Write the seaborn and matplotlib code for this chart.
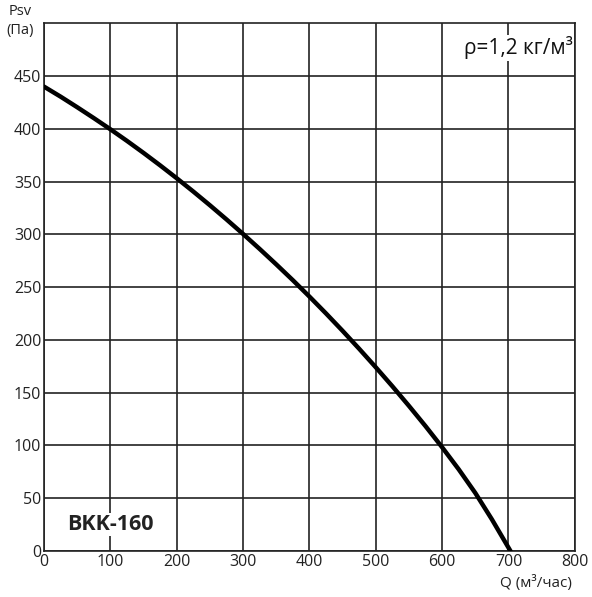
import pandas as pd
import matplotlib
matplotlib.use('Agg')
import matplotlib.pyplot as plt
import seaborn as sns

# Fan curve
flow = [0, 25, 50, 75, 100, 125, 150, 175, 200, 225, 250, 275, 300, 325, 350,
        375, 400, 425, 450, 475, 500, 525, 550, 575, 600, 625, 650, 675, 703]
pressure = [440, 430.5, 420.5, 410.2, 399.6, 388.6, 377.2, 365.4, 353.2, 340.6, 327.6,
            314.2, 300.4, 286.2, 271.6, 256.6, 241.1, 225.1, 208.6, 191.6, 174.1,
            156.1, 137.5, 118.3, 98.3, 77.4, 55.0, 30.0, 0]
x_ticks = [0, 100, 200, 300, 400, 500, 600, 700, 800]
y_ticks = [0, 50, 100, 150, 200, 250, 300, 350, 400, 450]

df = pd.DataFrame({'Q': flow, 'Psv': pressure})

sns.set_style('white')
plt.rcParams['font.family'] = ['Open Sans', 'DejaVu Sans']

fig = plt.figure(figsize=(5.92, 5.97), dpi=100)
ax = fig.add_axes([0.0743, 0.077, 0.8967, 0.884])

sns.lineplot(x='Q', y='Psv', data=df, ax=ax, color='black', linewidth=3.2, zorder=3)

ax.set_xlim(0, 800)
ax.set_ylim(0, 500)
ax.set_xticks(x_ticks)
ax.set_yticks(y_ticks)
ax.grid(True, color='#222222', linewidth=1.2)
ax.set_axisbelow(True)
for s in ax.spines.values():
    s.set_color('#222222')
    s.set_linewidth(1.2)
ax.tick_params(axis='both', labelsize=11.5, colors='#222222', length=0, pad=2)
ax.set_xlabel('')
ax.set_ylabel('')

fig.text(0.034, 0.965, 'Psv\n(Па)', ha='center', va='center', fontsize=10.5, color='#222222', linespacing=1.3)
fig.text(0.905, 0.023, 'Q (м³/час)', ha='center', va='center', fontsize=11, color='#222222')

ax.text(797, 477, 'ρ=1,2 кг/м³', ha='right', va='center', fontsize=15, color='#111111',
        bbox=dict(facecolor='white', edgecolor='none', pad=1), zorder=4)
ax.text(100, 25, 'BKK-160', ha='center', va='center', fontsize=15.5, fontweight='bold', color='#222222',
        bbox=dict(facecolor='white', edgecolor='none', pad=1), zorder=4)

fig.savefig('out.png', dpi=100, facecolor='white')
